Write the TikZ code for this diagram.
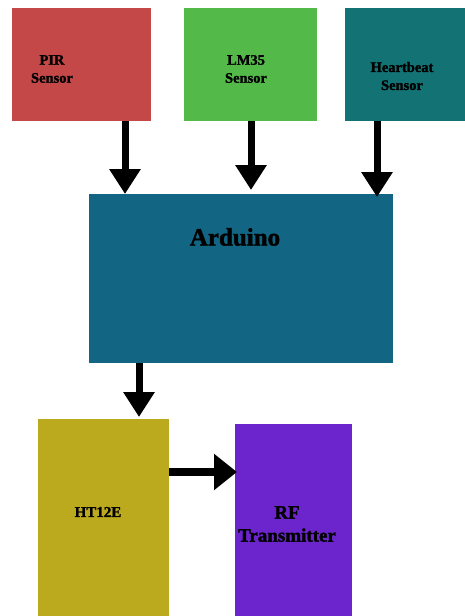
\documentclass[tikz,border=0pt]{standalone}
\usepackage{fontspec}
\setmainfont{Liberation Serif}
\newfontfamily\heavy{Liberation Serif Bold}[FakeBold=1.6]
\usetikzlibrary{arrows.meta}
\definecolor{pirc}{HTML}{C44848}
\definecolor{lmc}{HTML}{53BA49}
\definecolor{hbc}{HTML}{137374}
\definecolor{arc}{HTML}{126583}
\definecolor{htc}{HTML}{BBA91E}
\definecolor{rfc}{HTML}{6C24CC}
\tikzset{
  blk/.style={anchor=north west, inner sep=0pt, outer sep=0pt, draw=none},
  lbl/.style={align=center, inner sep=0pt, text=black},
  flow/.style={line width=7pt, -{Triangle[width=30pt,length=25pt]}},
  hflow/.style={line width=8pt, -{Triangle[width=35pt,length=23pt]}}
}
\begin{document}
\begin{tikzpicture}[x=1pt,y=-1pt]
\useasboundingbox (0,0) rectangle (465,616);
\node[blk, fill=pirc, minimum width=139pt, minimum height=113pt] (pir) at (12,8) {};
\node[blk, fill=lmc, minimum width=133pt, minimum height=113pt] (lm) at (184,8) {};
\node[blk, fill=hbc, minimum width=120pt, minimum height=113pt] (hb) at (345,8) {};
\node[blk, fill=arc, minimum width=304pt, minimum height=169pt] (ard) at (89,194) {};
\node[blk, fill=htc, minimum width=131pt, minimum height=197pt] (ht) at (38,419) {};
\node[blk, fill=rfc, minimum width=117pt, minimum height=192pt] (rf) at (235,424) {};

\node[lbl, font=\heavy\fontsize{14.5}{18}\selectfont] (pirt) at (52,69) {PIR\\Sensor};
\node[lbl, font=\heavy\fontsize{14.5}{18}\selectfont] (lmt) at (246,69) {LM35\\Sensor};
\node[lbl, font=\heavy\fontsize{14.5}{18}\selectfont] (hbt) at (402,76) {Heartbeat\\Sensor};
\node[lbl, font=\heavy\fontsize{25}{30}\selectfont] (ardt) at (235,237) {Arduino};
\node[lbl, font=\heavy\fontsize{15}{18}\selectfont] (htt) at (98,512) {HT12E};
\node[lbl, font=\heavy\fontsize{19}{23}\selectfont] (rft) at (287,524) {RF\\Transmitter};

\draw[flow] (pir.south -| 125,0) -- (ard.north -| 125,0);
\draw[flow] (lm.south -| 251,0) -- ([yshift=4pt]ard.north -| 251,0);
\draw[flow] (hb.south -| 377,0) -- ([yshift=-3pt]ard.north -| 377,0);
\draw[flow] (ard.south -| 139,0) -- ([yshift=2pt]ht.north -| 139,0);
\draw[hflow] (ht.east |- 0,472) -- ([xshift=2pt]rf.west |- 0,472);
\end{tikzpicture}
\end{document}
